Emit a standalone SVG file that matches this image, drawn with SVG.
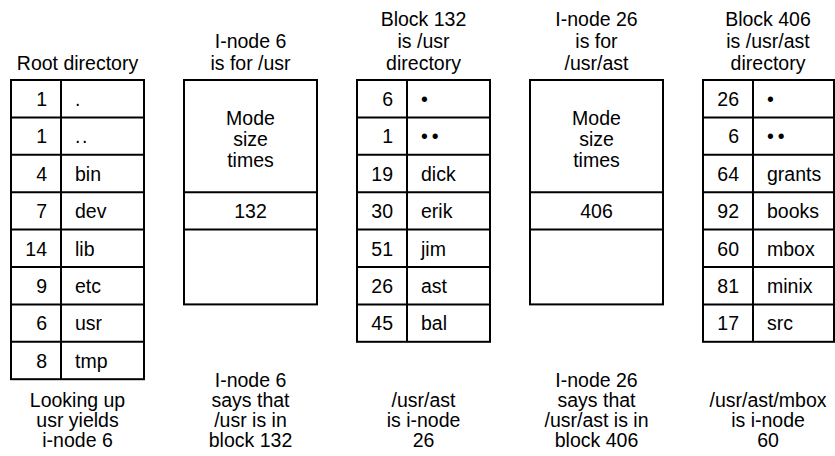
<svg xmlns="http://www.w3.org/2000/svg" width="835" height="456" viewBox="0 0 835 456">
<style>
text{font-family:"Liberation Sans",Arial,sans-serif;font-size:19.5px;fill:#000}
.c{text-anchor:middle}
.n{text-anchor:end}
.box{fill:#fff;stroke:#000;stroke-width:2}
.ln{stroke:#000;stroke-width:2}
.dots{letter-spacing:4px}
</style>
<rect width="835" height="456" fill="#fff"/>

<g id="root-directory">
<text class="c" x="77.5" y="70">Root directory</text>
<rect class="box" x="11" y="80" width="133" height="299.2"/>
<line class="ln" x1="61" y1="80" x2="61" y2="379.2"/>
<line class="ln" x1="11" y1="117.4" x2="144" y2="117.4"/>
<line class="ln" x1="11" y1="154.8" x2="144" y2="154.8"/>
<line class="ln" x1="11" y1="192.2" x2="144" y2="192.2"/>
<line class="ln" x1="11" y1="229.6" x2="144" y2="229.6"/>
<line class="ln" x1="11" y1="267" x2="144" y2="267"/>
<line class="ln" x1="11" y1="304.4" x2="144" y2="304.4"/>
<line class="ln" x1="11" y1="341.8" x2="144" y2="341.8"/>
<text class="n" x="47" y="106">1</text><text x="75" y="106">.</text>
<text class="n" x="47" y="143.4">1</text><text x="75" y="143.4" letter-spacing="1.5">..</text>
<text class="n" x="47" y="180.8">4</text><text x="75" y="180.8">bin</text>
<text class="n" x="47" y="218.2">7</text><text x="75" y="218.2">dev</text>
<text class="n" x="47" y="255.6">14</text><text x="75" y="255.6">lib</text>
<text class="n" x="47" y="293">9</text><text x="75" y="293">etc</text>
<text class="n" x="47" y="330.4">6</text><text x="75" y="330.4">usr</text>
<text class="n" x="47" y="367.8">8</text><text x="75" y="367.8">tmp</text>
<text class="c" x="77.5" y="406.5">Looking up</text>
<text class="c" x="77.5" y="426.5">usr yields</text>
<text class="c" x="77.5" y="446.5">i-node 6</text>
</g>

<g id="inode-6">
<text class="c" x="250.5" y="48">I-node 6</text>
<text class="c" x="250.5" y="70">is for /usr</text>
<rect class="box" x="184" y="80" width="133" height="224.4"/>
<line class="ln" x1="184" y1="192.2" x2="317" y2="192.2"/>
<line class="ln" x1="184" y1="229.6" x2="317" y2="229.6"/>
<text class="c" x="250.5" y="125">Mode</text>
<text class="c" x="250.5" y="146">size</text>
<text class="c" x="250.5" y="167">times</text>
<text class="c" x="250.5" y="218.2">132</text>
<text class="c" x="250.5" y="386.5">I-node 6</text>
<text class="c" x="250.5" y="406.5">says that</text>
<text class="c" x="250.5" y="426.5">/usr is in</text>
<text class="c" x="250.5" y="446.5">block 132</text>
</g>

<g id="block-132">
<text class="c" x="423.5" y="26">Block 132</text>
<text class="c" x="423.5" y="48">is /usr</text>
<text class="c" x="423.5" y="70">directory</text>
<rect class="box" x="357" y="80" width="133" height="261.8"/>
<line class="ln" x1="407" y1="80" x2="407" y2="341.8"/>
<line class="ln" x1="357" y1="117.4" x2="490" y2="117.4"/>
<line class="ln" x1="357" y1="154.8" x2="490" y2="154.8"/>
<line class="ln" x1="357" y1="192.2" x2="490" y2="192.2"/>
<line class="ln" x1="357" y1="229.6" x2="490" y2="229.6"/>
<line class="ln" x1="357" y1="267" x2="490" y2="267"/>
<line class="ln" x1="357" y1="304.4" x2="490" y2="304.4"/>
<text class="n" x="393" y="106">6</text><text x="421" y="106">•</text>
<text class="n" x="393" y="143.4">1</text><text class="dots" x="421" y="143.4">••</text>
<text class="n" x="393" y="180.8">19</text><text x="421" y="180.8">dick</text>
<text class="n" x="393" y="218.2">30</text><text x="421" y="218.2">erik</text>
<text class="n" x="393" y="255.6">51</text><text x="421" y="255.6">jim</text>
<text class="n" x="393" y="293">26</text><text x="421" y="293">ast</text>
<text class="n" x="393" y="330.4">45</text><text x="421" y="330.4">bal</text>
<text class="c" x="423.5" y="406.5">/usr/ast</text>
<text class="c" x="423.5" y="426.5">is i-node</text>
<text class="c" x="423.5" y="446.5">26</text>
</g>

<g id="inode-26">
<text class="c" x="596.5" y="26">I-node 26</text>
<text class="c" x="596.5" y="48">is for</text>
<text class="c" x="596.5" y="70">/usr/ast</text>
<rect class="box" x="530" y="80" width="133" height="224.4"/>
<line class="ln" x1="530" y1="192.2" x2="663" y2="192.2"/>
<line class="ln" x1="530" y1="229.6" x2="663" y2="229.6"/>
<text class="c" x="596.5" y="125">Mode</text>
<text class="c" x="596.5" y="146">size</text>
<text class="c" x="596.5" y="167">times</text>
<text class="c" x="596.5" y="218.2">406</text>
<text class="c" x="596.5" y="386.5">I-node 26</text>
<text class="c" x="596.5" y="406.5">says that</text>
<text class="c" x="596.5" y="426.5">/usr/ast is in</text>
<text class="c" x="596.5" y="446.5">block 406</text>
</g>

<g id="block-406">
<text class="c" x="768" y="26">Block 406</text>
<text class="c" x="768" y="48">is /usr/ast</text>
<text class="c" x="768" y="70">directory</text>
<rect class="box" x="703" y="80" width="131" height="261.8"/>
<line class="ln" x1="753" y1="80" x2="753" y2="341.8"/>
<line class="ln" x1="703" y1="117.4" x2="834" y2="117.4"/>
<line class="ln" x1="703" y1="154.8" x2="834" y2="154.8"/>
<line class="ln" x1="703" y1="192.2" x2="834" y2="192.2"/>
<line class="ln" x1="703" y1="229.6" x2="834" y2="229.6"/>
<line class="ln" x1="703" y1="267" x2="834" y2="267"/>
<line class="ln" x1="703" y1="304.4" x2="834" y2="304.4"/>
<text class="n" x="739" y="106">26</text><text x="767" y="106">•</text>
<text class="n" x="739" y="143.4">6</text><text class="dots" x="767" y="143.4">••</text>
<text class="n" x="739" y="180.8">64</text><text x="767" y="180.8">grants</text>
<text class="n" x="739" y="218.2">92</text><text x="767" y="218.2">books</text>
<text class="n" x="739" y="255.6">60</text><text x="767" y="255.6">mbox</text>
<text class="n" x="739" y="293">81</text><text x="767" y="293">minix</text>
<text class="n" x="739" y="330.4">17</text><text x="767" y="330.4">src</text>
<text class="c" x="768" y="406.5">/usr/ast/mbox</text>
<text class="c" x="768" y="426.5">is i-node</text>
<text class="c" x="768" y="446.5">60</text>
</g>

<g id="connectors"></g>
</svg>
